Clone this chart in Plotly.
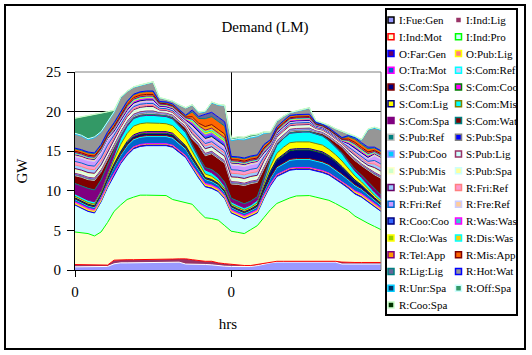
import plotly.graph_objects as go

# ---------------- data ----------------
hours = [0, 1, 2, 3, 4, 5, 6, 7, 8, 9, 10, 11, 12, 13, 14, 15, 16, 17, 18, 19, 20, 21, 22, 23,
         24, 25, 26, 27, 28, 29, 30, 31, 32, 33, 34, 35, 36, 37, 38, 39, 40, 41, 42, 43, 44, 45, 46, 47]
tick_vals = [0, 24]
tick_text = ["0", "0"]

series_names = ["I:Fue:Gen", "I:Ind:Lig", "I:Ind:Mot", "I:Ind:Pro", "O:Far:Gen", "O:Pub:Lig",
                "O:Tra:Mot", "S:Com:Ref", "S:Com:Spa", "S:Com:Coo", "S:Com:Lig", "S:Com:Mis",
                "S:Com:Spa", "S:Com:Wat", "S:Pub:Ref", "S:Pub:Spa", "S:Pub:Coo", "S:Pub:Lig",
                "S:Pub:Mis", "S:Pub:Spa", "S:Pub:Wat", "R:Fri:Ref", "R:Fri:Ref", "R:Fre:Ref",
                "R:Coo:Coo", "R:Was:Was", "R:Clo:Was", "R:Dis:Was", "R:Tel:App", "R:Mis:App",
                "R:Lig:Lig", "R:Hot:Wat", "R:Unr:Spa", "R:Off:Spa", "R:Coo:Spa"]

i_fue_gen = [0.40, 0.40, 0.40, 0.40, 0.40, 0.45, 0.78, 0.90, 0.90, 0.90, 0.90, 0.90, 0.90, 0.90, 0.90, 0.99,
             0.99, 0.75, 0.75, 0.75, 0.70, 0.65, 0.55, 0.48, 0.45, 0.45, 0.45, 0.45, 0.55, 0.75, 0.90, 1.00,
             1.00, 1.00, 1.00, 1.00, 1.00, 1.00, 1.00, 1.00, 1.00, 0.75, 0.75, 0.75, 0.75, 0.75, 0.75, 0.75]
i_ind_lig = [0.29, 0.29, 0.29, 0.29, 0.25, 0.17, 0.46, 0.40, 0.40, 0.40, 0.40, 0.40, 0.40, 0.40, 0.45, 0.39,
             0.42, 0.66, 0.55, 0.45, 0.40, 0.45, 0.35, 0.32, 0.25, 0.15, 0.12, 0.12, 0.15, 0.10, 0.10, 0.10,
             0.10, 0.10, 0.10, 0.10, 0.10, 0.10, 0.10, 0.10, 0.10, 0.25, 0.20, 0.20, 0.20, 0.20, 0.20, 0.20]
i_ind_mot = [4.11, 4.01, 3.91, 3.61, 4.15, 5.38, 6.16, 6.90, 7.60, 7.90, 8.15, 8.15, 8.15, 8.15, 8.05, 7.52,
             7.29, 7.09, 7.00, 6.20, 5.50, 5.40, 5.40, 4.80, 4.20, 4.15, 4.03, 4.53, 4.90, 5.75, 6.60, 7.30,
             7.70, 8.00, 8.25, 8.30, 8.30, 8.10, 7.90, 7.70, 7.30, 7.00, 6.55, 5.85, 5.35, 4.95, 4.55, 4.15]
i_ind_pro = [3.40, 3.10, 2.80, 2.90, 3.80, 4.40, 4.60, 5.20, 5.60, 6.10, 6.15, 6.25, 6.25, 6.25, 6.30, 6.60,
             6.20, 5.70, 4.60, 4.20, 3.90, 3.80, 3.60, 3.40, 2.30, 2.05, 1.85, 1.70, 1.60, 2.40, 3.00, 3.40,
             3.40, 3.50, 3.35, 3.30, 3.30, 3.30, 3.30, 3.20, 3.10, 2.90, 2.80, 2.80, 2.90, 2.70, 2.50, 2.30]
o_far_gen = [0.15, 0.15, 0.15, 0.15, 0.15, 0.18, 0.20, 0.20, 0.20, 0.20, 0.20, 0.20, 0.20, 0.20, 0.20, 0.20,
             0.20, 0.20, 0.20, 0.20, 0.18, 0.18, 0.15, 0.15, 0.15, 0.15, 0.15, 0.15, 0.15, 0.18, 0.20, 0.20,
             0.20, 0.20, 0.20, 0.20, 0.20, 0.20, 0.20, 0.20, 0.20, 0.20, 0.20, 0.20, 0.18, 0.18, 0.15, 0.15]
o_pub_lig = [0.25, 0.25, 0.25, 0.25, 0.25, 0.20, 0.10, 0.05, 0.05, 0.05, 0.05, 0.05, 0.05, 0.05, 0.05, 0.05,
             0.05, 0.05, 0.10, 0.20, 0.25, 0.25, 0.25, 0.25, 0.25, 0.25, 0.25, 0.25, 0.25, 0.20, 0.05, 0.05,
             0.05, 0.05, 0.05, 0.05, 0.05, 0.05, 0.05, 0.05, 0.05, 0.05, 0.10, 0.20, 0.25, 0.25, 0.25, 0.25]
o_tra_mot = [0.30, 0.30, 0.30, 0.30, 0.35, 0.50, 0.70, 0.80, 0.90, 0.90, 0.90, 0.90, 0.90, 0.90, 0.90, 0.90,
             0.85, 0.80, 0.70, 0.60, 0.50, 0.45, 0.40, 0.35, 0.30, 0.30, 0.30, 0.30, 0.35, 0.50, 0.70, 0.85,
             0.95, 1.00, 1.00, 1.00, 1.00, 1.00, 1.00, 0.95, 0.90, 0.85, 0.75, 0.65, 0.55, 0.45, 0.40, 0.35]
s_com_ref = [0.08, 0.08, 0.08, 0.08, 0.08, 0.08, 0.10, 0.12, 0.12, 0.12, 0.12, 0.12, 0.12, 0.12, 0.12, 0.12,
             0.12, 0.12, 0.10, 0.10, 0.10, 0.10, 0.10, 0.10, 0.08, 0.08, 0.08, 0.08, 0.08, 0.10, 0.12, 0.12,
             0.12, 0.12, 0.12, 0.12, 0.12, 0.12, 0.12, 0.12, 0.12, 0.12, 0.10, 0.10, 0.10, 0.10, 0.10, 0.10]
s_com_spa = [0.10, 0.10, 0.10, 0.10, 0.10, 0.15, 0.20, 0.25, 0.30, 0.30, 0.30, 0.30, 0.30, 0.30, 0.30, 0.30,
             0.25, 0.20, 0.20, 0.15, 0.10, 0.10, 0.10, 0.10, 0.10, 0.10, 0.10, 0.10, 0.15, 0.40, 0.70, 0.85,
             1.00, 1.10, 1.10, 1.10, 1.10, 1.10, 1.10, 1.00, 0.95, 0.85, 0.70, 0.55, 0.40, 0.30, 0.20, 0.15]
s_com_coo = [0.03, 0.03, 0.03, 0.03, 0.03, 0.05, 0.08, 0.10, 0.15, 0.20, 0.20, 0.20, 0.20, 0.20, 0.20, 0.20,
             0.15, 0.12, 0.10, 0.08, 0.05, 0.05, 0.03, 0.03, 0.03, 0.03, 0.03, 0.03, 0.03, 0.05, 0.08, 0.10,
             0.12, 0.15, 0.15, 0.15, 0.15, 0.15, 0.15, 0.12, 0.10, 0.10, 0.08, 0.06, 0.05, 0.03, 0.03, 0.03]
s_com_lig = [0.20, 0.20, 0.20, 0.20, 0.20, 0.30, 0.60, 0.90, 1.00, 1.10, 1.10, 1.10, 1.10, 1.05, 1.00, 0.95,
             0.90, 0.85, 0.70, 0.55, 0.45, 0.40, 0.30, 0.25, 0.20, 0.20, 0.20, 0.20, 0.25, 0.40, 0.60, 0.75,
             0.85, 0.85, 0.85, 0.85, 0.85, 0.85, 0.85, 0.80, 0.75, 0.70, 0.60, 0.50, 0.40, 0.35, 0.30, 0.25]
s_com_mis = [0.30, 0.30, 0.30, 0.30, 0.30, 0.40, 0.60, 0.80, 0.90, 0.95, 0.95, 0.95, 0.95, 0.90, 0.90, 0.85,
             0.80, 0.80, 0.70, 0.60, 0.50, 0.45, 0.40, 0.35, 0.30, 0.30, 0.30, 0.30, 0.35, 0.50, 0.80, 1.00,
             1.10, 1.20, 1.20, 1.25, 1.25, 1.20, 1.15, 1.10, 1.00, 0.95, 0.75, 0.65, 0.55, 0.45, 0.40, 0.35]
s_com_spa2 = [1.30, 1.40, 1.50, 1.50, 1.30, 1.00, 0.60, 0.30, 0.20, 0.10, 0.10, 0.10, 0.10, 0.10, 0.10, 0.10,
              0.10, 0.10, 0.15, 0.20, 0.30, 0.40, 0.45, 0.50, 0.45, 0.50, 0.50, 0.50, 0.45, 0.30, 0.15, 0.10,
              0.05, 0.05, 0.05, 0.05, 0.05, 0.05, 0.05, 0.05, 0.08, 0.10, 0.15, 0.20, 0.30, 0.40, 0.45, 0.45]
s_com_wat = [1.00, 1.10, 1.10, 1.20, 1.00, 0.70, 0.40, 0.20, 0.15, 0.15, 0.15, 0.15, 0.15, 0.15, 0.15, 0.20,
             0.30, 0.50, 0.65, 1.40, 1.50, 2.00, 2.00, 2.40, 1.80, 2.10, 2.30, 2.20, 1.80, 1.20, 0.40, 0.20,
             0.15, 0.15, 0.15, 0.15, 0.15, 0.20, 0.25, 0.35, 0.50, 0.70, 0.90, 1.10, 1.20, 1.50, 1.75, 2.10]
s_pub_ref = [0.10, 0.10, 0.10, 0.10, 0.10, 0.10, 0.10, 0.10, 0.10, 0.10, 0.10, 0.10, 0.10, 0.06, 0.06, 0.06,
             0.06, 0.06, 0.08, 0.08, 0.10, 0.10, 0.10, 0.10, 0.10, 0.10, 0.10, 0.10, 0.10, 0.10, 0.10, 0.10,
             0.10, 0.10, 0.10, 0.10, 0.10, 0.06, 0.06, 0.06, 0.06, 0.06, 0.07, 0.08, 0.08, 0.08, 0.10, 0.10]
s_pub_spa = [0.15, 0.15, 0.15, 0.15, 0.15, 0.15, 0.12, 0.08, 0.08, 0.08, 0.08, 0.08, 0.08, 0.05, 0.05, 0.05,
             0.05, 0.05, 0.10, 0.10, 0.12, 0.12, 0.12, 0.12, 0.15, 0.15, 0.15, 0.15, 0.15, 0.12, 0.08, 0.08,
             0.08, 0.08, 0.08, 0.08, 0.08, 0.05, 0.05, 0.05, 0.05, 0.05, 0.07, 0.10, 0.10, 0.10, 0.15, 0.15]
s_pub_coo = [0.05, 0.05, 0.05, 0.05, 0.05, 0.05, 0.08, 0.13, 0.13, 0.13, 0.13, 0.13, 0.13, 0.10, 0.10, 0.10,
             0.10, 0.10, 0.08, 0.08, 0.08, 0.08, 0.08, 0.08, 0.05, 0.05, 0.05, 0.05, 0.05, 0.08, 0.12, 0.12,
             0.12, 0.12, 0.12, 0.12, 0.12, 0.08, 0.08, 0.08, 0.08, 0.08, 0.06, 0.06, 0.06, 0.06, 0.05, 0.05]
s_pub_lig = [0.20, 0.20, 0.20, 0.20, 0.20, 0.20, 0.20, 0.22, 0.22, 0.22, 0.22, 0.22, 0.22, 0.12, 0.12, 0.12,
             0.12, 0.12, 0.18, 0.18, 0.22, 0.22, 0.22, 0.22, 0.20, 0.20, 0.20, 0.20, 0.20, 0.20, 0.18, 0.18,
             0.18, 0.18, 0.18, 0.18, 0.18, 0.10, 0.10, 0.10, 0.10, 0.10, 0.12, 0.15, 0.15, 0.15, 0.20, 0.20]
s_pub_mis = [0.15, 0.15, 0.15, 0.15, 0.15, 0.15, 0.18, 0.17, 0.17, 0.17, 0.17, 0.17, 0.17, 0.10, 0.10, 0.10,
             0.10, 0.10, 0.14, 0.14, 0.18, 0.18, 0.18, 0.18, 0.15, 0.15, 0.15, 0.15, 0.15, 0.18, 0.15, 0.15,
             0.15, 0.15, 0.15, 0.15, 0.15, 0.08, 0.08, 0.08, 0.08, 0.08, 0.10, 0.10, 0.10, 0.10, 0.15, 0.15]
s_pub_spa2 = [0.25, 0.25, 0.25, 0.25, 0.25, 0.25, 0.22, 0.17, 0.17, 0.17, 0.17, 0.17, 0.17, 0.10, 0.10, 0.10,
              0.10, 0.10, 0.14, 0.14, 0.18, 0.18, 0.18, 0.18, 0.25, 0.25, 0.25, 0.25, 0.25, 0.22, 0.12, 0.12,
              0.12, 0.12, 0.12, 0.12, 0.12, 0.08, 0.08, 0.08, 0.08, 0.08, 0.11, 0.12, 0.12, 0.12, 0.25, 0.25]
s_pub_wat = [0.45, 0.45, 0.45, 0.45, 0.45, 0.45, 0.25, 0.13, 0.13, 0.13, 0.13, 0.13, 0.13, 0.07, 0.07, 0.07,
             0.07, 0.07, 0.22, 0.22, 0.35, 0.35, 0.35, 0.35, 0.45, 0.45, 0.45, 0.45, 0.45, 0.25, 0.10, 0.10,
             0.10, 0.10, 0.10, 0.10, 0.10, 0.05, 0.05, 0.05, 0.05, 0.05, 0.22, 0.25, 0.25, 0.25, 0.45, 0.45]
r_fri_ref = [0.45, 0.45, 0.45, 0.45, 0.45, 0.45, 0.28, 0.25, 0.25, 0.25, 0.25, 0.25, 0.25, 0.15, 0.15, 0.15,
             0.15, 0.15, 0.28, 0.28, 0.30, 0.30, 0.30, 0.30, 0.45, 0.45, 0.45, 0.45, 0.45, 0.28, 0.15, 0.15,
             0.15, 0.15, 0.15, 0.15, 0.15, 0.10, 0.10, 0.10, 0.10, 0.10, 0.20, 0.25, 0.25, 0.25, 0.45, 0.45]
r_fri_ref2 = [0.60, 0.60, 0.60, 0.60, 0.60, 0.60, 0.30, 0.25, 0.25, 0.25, 0.25, 0.25, 0.25, 0.15, 0.15, 0.15,
              0.15, 0.15, 0.35, 0.35, 0.40, 0.40, 0.40, 0.40, 0.60, 0.60, 0.60, 0.60, 0.60, 0.30, 0.15, 0.15,
              0.15, 0.15, 0.15, 0.15, 0.15, 0.10, 0.10, 0.10, 0.10, 0.10, 0.22, 0.30, 0.30, 0.30, 0.60, 0.60]
r_fre_ref = [0.25, 0.25, 0.25, 0.25, 0.25, 0.25, 0.22, 0.20, 0.20, 0.20, 0.20, 0.20, 0.20, 0.10, 0.10, 0.10,
             0.10, 0.10, 0.22, 0.22, 0.25, 0.25, 0.25, 0.25, 0.25, 0.25, 0.25, 0.25, 0.25, 0.22, 0.12, 0.12,
             0.12, 0.12, 0.12, 0.12, 0.12, 0.07, 0.07, 0.07, 0.07, 0.07, 0.15, 0.20, 0.20, 0.20, 0.25, 0.25]
r_coo_coo = [0.08, 0.08, 0.08, 0.08, 0.08, 0.08, 0.15, 0.15, 0.15, 0.15, 0.15, 0.15, 0.15, 0.08, 0.08, 0.08,
             0.08, 0.08, 0.25, 0.25, 0.35, 0.35, 0.35, 0.35, 0.08, 0.08, 0.08, 0.08, 0.08, 0.15, 0.10, 0.10,
             0.10, 0.10, 0.10, 0.10, 0.10, 0.05, 0.05, 0.05, 0.05, 0.05, 0.13, 0.15, 0.15, 0.15, 0.08, 0.08]
r_was_was = [0.05, 0.05, 0.05, 0.05, 0.05, 0.05, 0.10, 0.15, 0.15, 0.15, 0.15, 0.15, 0.15, 0.08, 0.08, 0.08,
             0.08, 0.08, 0.18, 0.18, 0.25, 0.25, 0.25, 0.25, 0.05, 0.05, 0.05, 0.05, 0.05, 0.10, 0.10, 0.10,
             0.10, 0.10, 0.10, 0.10, 0.10, 0.05, 0.05, 0.05, 0.05, 0.05, 0.10, 0.12, 0.12, 0.12, 0.05, 0.05]
r_clo_was = [0.05, 0.05, 0.05, 0.05, 0.05, 0.05, 0.08, 0.10, 0.10, 0.10, 0.10, 0.10, 0.10, 0.06, 0.06, 0.06,
             0.06, 0.06, 0.15, 0.15, 0.20, 0.20, 0.20, 0.20, 0.05, 0.05, 0.05, 0.05, 0.05, 0.08, 0.08, 0.08,
             0.08, 0.08, 0.08, 0.08, 0.08, 0.04, 0.04, 0.04, 0.04, 0.04, 0.08, 0.10, 0.10, 0.10, 0.05, 0.05]
r_dis_was = [0.10, 0.10, 0.10, 0.10, 0.10, 0.10, 0.10, 0.10, 0.10, 0.10, 0.10, 0.10, 0.10, 0.06, 0.06, 0.06,
             0.06, 0.06, 0.18, 0.18, 0.25, 0.25, 0.25, 0.25, 0.10, 0.10, 0.10, 0.10, 0.10, 0.10, 0.08, 0.08,
             0.08, 0.08, 0.08, 0.08, 0.08, 0.04, 0.04, 0.04, 0.04, 0.04, 0.10, 0.12, 0.12, 0.12, 0.10, 0.10]
r_tel_app = [0.15, 0.15, 0.15, 0.15, 0.15, 0.15, 0.18, 0.20, 0.20, 0.20, 0.20, 0.20, 0.20, 0.10, 0.10, 0.10,
             0.10, 0.10, 0.30, 0.30, 0.45, 0.45, 0.45, 0.45, 0.15, 0.15, 0.15, 0.15, 0.15, 0.18, 0.12, 0.12,
             0.12, 0.12, 0.12, 0.12, 0.12, 0.07, 0.07, 0.07, 0.07, 0.07, 0.16, 0.20, 0.20, 0.20, 0.15, 0.15]
r_mis_app = [0.30, 0.30, 0.30, 0.30, 0.30, 0.30, 0.35, 0.35, 0.35, 0.35, 0.35, 0.35, 0.35, 0.17, 0.17, 0.17,
             0.17, 0.17, 0.60, 0.60, 1.00, 1.00, 1.00, 1.00, 0.30, 0.30, 0.30, 0.30, 0.30, 0.35, 0.25, 0.25,
             0.25, 0.25, 0.25, 0.25, 0.25, 0.13, 0.13, 0.13, 0.13, 0.13, 0.32, 0.40, 0.40, 0.40, 0.30, 0.30]
r_lig_lig = [0.10, 0.10, 0.10, 0.10, 0.10, 0.10, 0.10, 0.08, 0.08, 0.08, 0.08, 0.08, 0.08, 0.05, 0.05, 0.05,
             0.05, 0.05, 0.25, 0.25, 0.55, 0.55, 0.55, 0.55, 0.10, 0.10, 0.10, 0.10, 0.10, 0.10, 0.05, 0.05,
             0.05, 0.05, 0.05, 0.05, 0.05, 0.05, 0.05, 0.05, 0.05, 0.05, 0.14, 0.20, 0.20, 0.20, 0.10, 0.10]
r_hot_wat = [1.77, 1.72, 1.57, 1.92, 1.52, 1.12, 1.29, 1.80, 1.20, 0.85, 0.80, 0.90, 1.10, 0.45, 0.30, 0.30,
             0.60, 0.90, 0.60, 0.50, 0.30, 1.20, 1.50, 2.00, 2.00, 2.20, 2.30, 2.30, 2.30, 1.40, 0.90, 0.70,
             0.50, 0.30, 0.40, 0.55, 0.75, 0.20, 0.15, 0.30, 0.45, 0.80, 0.15, 0.10, 0.30, 2.20, 2.40, 2.60]
r_unr_spa = [0.10, 0.10, 0.10, 0.10, 0.10, 0.10, 0.08, 0.05, 0.05, 0.05, 0.05, 0.05, 0.05, 0.04, 0.04, 0.04,
             0.04, 0.04, 0.06, 0.06, 0.08, 0.08, 0.08, 0.08, 0.10, 0.10, 0.10, 0.10, 0.10, 0.08, 0.05, 0.05,
             0.05, 0.05, 0.05, 0.05, 0.05, 0.04, 0.04, 0.04, 0.04, 0.04, 0.06, 0.08, 0.08, 0.08, 0.10, 0.10]
r_off_spa = [1.90, 2.30, 2.90, 2.80, 2.30, 1.30, 0.20, 0.00, 0.00, 0.00, 0.00, 0.00, 0.00, 0.00, 0.00, 0.00,
             0.00, 0.00, 0.00, 0.00, 0.00, 0.00, 0.00, 0.00, 0.20, 0.20, 0.20, 0.25, 0.20, 0.10, 0.00, 0.00,
             0.00, 0.00, 0.00, 0.00, 0.00, 0.00, 0.00, 0.00, 0.00, 0.00, 0.00, 0.00, 0.00, 0.00, 0.00, 0.00]
r_coo_spa = [0.04, 0.04, 0.04, 0.04, 0.04, 0.04, 0.04, 0.04, 0.04, 0.04, 0.04, 0.04, 0.04, 0.03, 0.03, 0.03,
             0.03, 0.03, 0.04, 0.04, 0.04, 0.04, 0.04, 0.04, 0.04, 0.04, 0.04, 0.04, 0.04, 0.04, 0.04, 0.04,
             0.04, 0.04, 0.04, 0.04, 0.04, 0.03, 0.03, 0.03, 0.03, 0.03, 0.04, 0.04, 0.04, 0.04, 0.04, 0.04]

series_values = [i_fue_gen, i_ind_lig, i_ind_mot, i_ind_pro, o_far_gen, o_pub_lig, o_tra_mot,
                 s_com_ref, s_com_spa, s_com_coo, s_com_lig, s_com_mis, s_com_spa2, s_com_wat,
                 s_pub_ref, s_pub_spa, s_pub_coo, s_pub_lig, s_pub_mis, s_pub_spa2, s_pub_wat,
                 r_fri_ref, r_fri_ref2, r_fre_ref, r_coo_coo, r_was_was, r_clo_was, r_dis_was,
                 r_tel_app, r_mis_app, r_lig_lig, r_hot_wat, r_unr_spa, r_off_spa, r_coo_spa]

# ---------------- styles ----------------
fill_colors = ["#9999FF", "#993366", "#FFFFCC", "#CCFFFF", "#660066", "#FF8080", "#0066CC", "#CCCCFF",
               "#000080", "#FF00FF", "#FFFF00", "#00FFFF", "#800080", "#800000", "#008080", "#0000FF",
               "#00CCFF", "#CCFFFF", "#CCFFCC", "#FFFF99", "#99CCFF", "#FF99CC", "#CC99FF", "#FFCC99",
               "#3366FF", "#33CCCC", "#99CC00", "#FFCC00", "#FF9900", "#FF6600", "#666699", "#969696",
               "#003366", "#339966", "#003300"]
border_colors = ["#000000", "#FFFFFF", "#FF0000", "#00FF00", "#0000FF", "#FFFF00", "#FF00FF", "#00FFFF",
                 "#800000", "#008000", "#000080", "#808000", "#800080", "#008080", "#C0C0C0", "#808080",
                 "#9999FF", "#993366", "#FFFFCC", "#CCFFFF", "#660066", "#FF8080", "#0066CC", "#CCCCFF",
                 "#000080", "#FF00FF", "#FFFF00", "#00FFFF", "#800080", "#800000", "#008080", "#0000FF",
                 "#00CCFF", "#CCFFFF", "#CCFFCC"]

FONT = "Liberation Serif, Times New Roman, serif"
W, H = 532, 355
PL, PR, PT, PB = 75, 381, 72, 270


def fx(px):
    return (px - PL) / (PR - PL)


def fy(py):
    return (PB - py) / (PB - PT)


fig = go.Figure()
n = len(series_names)
for k in range(n):
    # In the original, the boundary above a band shows the next band's border colour
    lc = border_colors[k + 1] if k + 1 < n else border_colors[k]
    fig.add_trace(go.Scatter(
        x=hours, y=series_values[k], name=series_names[k],
        mode="lines", stackgroup="one",
        fillcolor=fill_colors[k], line=dict(color=lc, width=1),
        showlegend=False, hoverinfo="name+y"))

shapes = []
annotations = []
# outer chart border
shapes.append(dict(type="rect", xref="paper", yref="paper", x0=fx(5), x1=fx(525), y0=fy(349), y1=fy(5),
                   line=dict(color="black", width=2), fillcolor="rgba(0,0,0,0)", layer="above"))
# plot area top/right border (gray)
shapes.append(dict(type="line", xref="paper", yref="paper", x0=0, x1=1, y0=1, y1=1,
                   line=dict(color="#808080", width=1), layer="above"))
shapes.append(dict(type="line", xref="paper", yref="paper", x0=1, x1=1, y0=0, y1=1,
                   line=dict(color="#808080", width=1), layer="above"))
# legend box
shapes.append(dict(type="rect", xref="paper", yref="paper", x0=fx(386), x1=fx(517), y0=fy(315), y1=fy(9),
                   line=dict(color="black", width=2), fillcolor="white", layer="above"))
row0, dy = 20.0, 16.76
for k in range(n):
    col = k % 2
    row = k // 2
    cy = row0 + dy * row
    sx = 391.0 if col == 0 else 458.5
    tx = 396.5 if col == 0 else 464.0
    shapes.append(dict(type="rect", xref="paper", yref="paper",
                       x0=fx(sx - 3), x1=fx(sx + 3), y0=fy(cy + 3), y1=fy(cy - 3),
                       line=dict(color=border_colors[k], width=1.5), fillcolor=fill_colors[k], layer="above"))
    annotations.append(dict(xref="paper", yref="paper", x=fx(tx), y=fy(cy), text=series_names[k],
                            showarrow=False, xanchor="left", yanchor="middle",
                            font=dict(family=FONT, size=11, color="black")))

fig.update_layout(
    width=W, height=H,
    margin=dict(l=PL, r=W - PR, t=PT, b=H - PB, pad=0, autoexpand=False),
    paper_bgcolor="white", plot_bgcolor="white",
    showlegend=False,
    title=dict(text="Demand (LM)", x=265 / W, xanchor="center", xref="container",
               y=1 - 27 / H, yanchor="middle", yref="container",
               font=dict(family=FONT, size=15, color="black")),
    font=dict(family=FONT, size=15, color="black"),
    xaxis=dict(range=[0, 47], tickvals=tick_vals, ticktext=tick_text, ticks="outside", ticklen=6,
               tickcolor="black", showline=True, linecolor="black", linewidth=1,
               showgrid=True, gridcolor="black", gridwidth=1, zeroline=False, automargin=False,
               ticklabelstandoff=2,
               tickfont=dict(family=FONT, size=15, color="black"),
               title=dict(text="hrs", standoff=19, font=dict(family=FONT, size=15, color="black"))),
    yaxis=dict(range=[0, 25], dtick=5, ticks="outside", ticklen=7, tickcolor="black",
               showline=True, linecolor="black", linewidth=1,
               showgrid=True, gridcolor="black", gridwidth=1, zeroline=False, automargin=False,
               ticklabelstandoff=3,
               tickfont=dict(family=FONT, size=15, color="black"),
               title=dict(text="GW", standoff=14, font=dict(family=FONT, size=15, color="black"))),
    shapes=shapes, annotations=annotations,
)

fig.write_html("out.html",
               config={"displayModeBar": False},
               post_script="document.body.style.margin='0';document.body.style.padding='0';"
                           "document.body.style.overflow='hidden';")
